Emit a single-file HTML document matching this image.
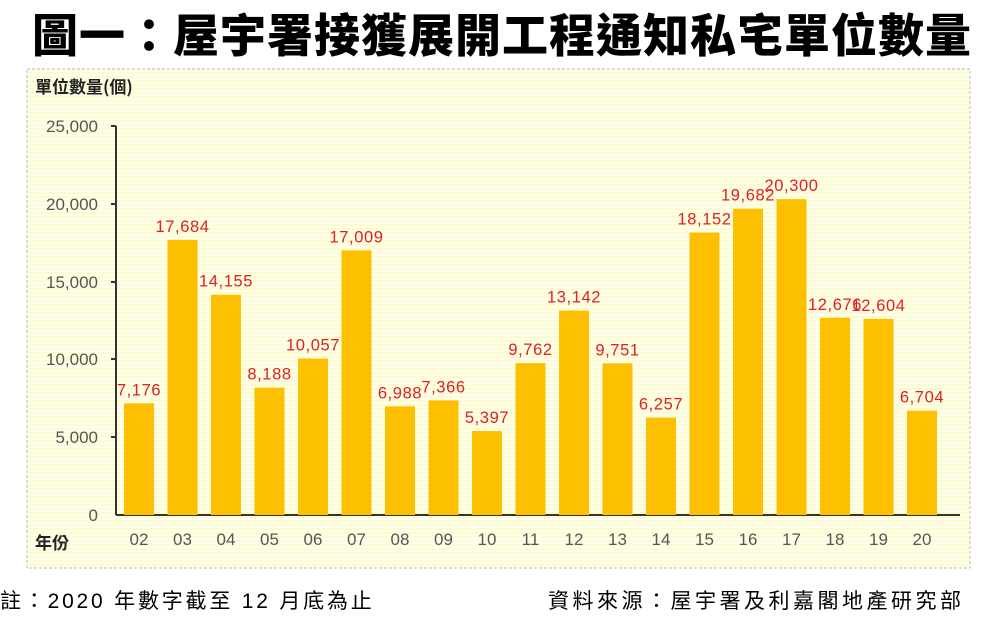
<!DOCTYPE html>
<html><head><meta charset="utf-8"><style>
body{margin:0;width:1004px;height:619px;background:#fff;overflow:hidden;position:relative;font-family:"Liberation Sans","Noto Sans CJK TC",sans-serif}
.t{position:absolute;left:0;width:1004px;top:0px;text-align:center;font-size:46px;font-weight:900;letter-spacing:1px;color:#000;font-family:"Noto Sans CJK TC",sans-serif;white-space:nowrap}
.f{position:absolute;top:585px;font-size:21px;color:#000;font-family:"Liberation Sans","Noto Sans CJK TC",sans-serif;white-space:nowrap}
</style></head><body>
<div class="t">圖一：屋宇署接獲展開工程通知私宅單位數量</div>
<svg width="1004" height="619" style="position:absolute;left:0;top:0">
<defs><pattern id="s" width="4" height="4" patternUnits="userSpaceOnUse"><rect width="4" height="2" fill="#fdfbd0"/><rect y="2" width="4" height="2" fill="#fffff0"/></pattern></defs>
<rect x="27" y="69" width="943" height="499" fill="url(#s)" stroke="#bbb" stroke-dasharray="3,2"/>
<text x="35" y="93" font-size="17" font-weight="bold" fill="#222" font-family="Noto Sans CJK TC,sans-serif">單位數量(個)</text>
<text x="35" y="549" font-size="17" font-weight="bold" fill="#222" font-family="Noto Sans CJK TC,sans-serif">年份</text>
<g font-size="17" fill="#555" text-anchor="end" font-family="Liberation Sans,sans-serif">
<text x="98" y="132">25,000</text><text x="98" y="210">20,000</text><text x="98" y="288">15,000</text><text x="98" y="365">10,000</text><text x="98" y="443">5,000</text><text x="98" y="521">0</text>
</g>
<g stroke="#333" stroke-width="2"><line x1="116" y1="126" x2="116" y2="515"/><line x1="116" y1="515" x2="960" y2="515"/>
<line x1="111" y1="126" x2="116" y2="126"/><line x1="111" y1="204" x2="116" y2="204"/><line x1="111" y1="282" x2="116" y2="282"/><line x1="111" y1="359" x2="116" y2="359"/><line x1="111" y1="437" x2="116" y2="437"/></g>
<g id="b"></g>
</svg>
<div class="f" style="left:0;letter-spacing:2.8px">註：2020 年數字截至 12 月底為止</div>
<div class="f" style="left:548px;letter-spacing:3.5px">資料來源：屋宇署及利嘉閣地產研究部</div>
<script>
var v=[7176,17684,14155,8188,10057,17009,6988,7366,5397,9762,13142,9751,6257,18152,19682,20300,12676,12604,6704];
var s='',g=document.getElementById('b');
v.forEach(function(d,i){var c=139+i*43.5,h=d*389/25000,y=515-h;
s+='<rect x="'+(c-15)+'" y="'+y+'" width="30" height="'+h+'" fill="#fcc000"/>';
s+='<text x="'+c+'" y="'+(y-8)+'" font-size="16.5" letter-spacing="0.6" fill="#e02020" text-anchor="middle" font-family="Liberation Sans,sans-serif">'+d.toLocaleString('en-US')+'</text>';
s+='<text x="'+c+'" y="545" font-size="17" fill="#555" text-anchor="middle" font-family="Liberation Sans,sans-serif">'+String(i+2).padStart(2,'0')+'</text>';});
g.innerHTML=s;
</script>
</body></html>
